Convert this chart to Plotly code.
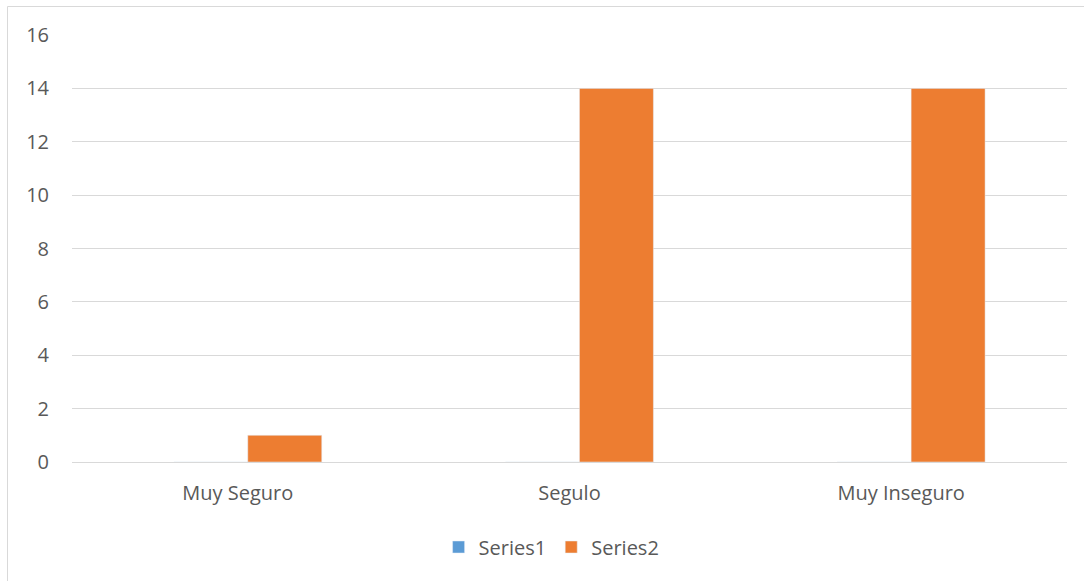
import plotly.graph_objects as go

categories = ["Muy Seguro", "Segulo", "Muy Inseguro"]
series1 = [0, 0, 0]
series2 = [1, 14, 14]
y_ticks = [0, 2, 4, 6, 8, 10, 12, 14, 16]

W, H = 1084, 581
L, R, T, B = 72, 17, 35, 119
pw, ph = W - L - R, H - T - B

BW = 0.223   # bar width, in category units
SHIFT = 0.03 # group offset seen in the reference

fig = go.Figure()
fig.add_trace(go.Bar(name="Series1", x=categories, y=series1, marker_color="#5b9bd5",
                     width=BW, offset=-BW + SHIFT))
fig.add_trace(go.Bar(name="Series2", x=categories, y=series2, marker_color="#ed7d31",
                     width=BW, offset=SHIFT))

FS = 20
font = dict(family="Open Sans, Liberation Sans, sans-serif", size=FS, color="#595959")
fig.update_layout(
    width=W, height=H,
    margin=dict(l=L, r=R, t=T, b=B),
    paper_bgcolor="white", plot_bgcolor="white",
    barmode="group",
    font=font,
    showlegend=True,
    legend=dict(orientation="h", x=0.482, xanchor="center", y=(462 - 547) / ph, yanchor="middle",
                font=dict(size=FS, color="#595959"), itemwidth=30, traceorder="normal"),
    xaxis=dict(showgrid=False, showline=False, ticks="", ticklabelstandoff=17,
               tickfont=dict(size=FS, color="#595959")),
    yaxis=dict(range=[0, 16], tickvals=y_ticks, showgrid=True, gridcolor="#d9d9d9", gridwidth=1,
               zeroline=True, zerolinecolor="#d9d9d9", zerolinewidth=1, showline=False,
               ticks="", ticklabelstandoff=22, tickfont=dict(size=FS, color="#595959")),
)

fig.add_shape(type="rect", xref="paper", yref="paper",
              x0=(7.5 - L) / pw, x1=(1095 - L) / pw,
              y0=(462 - 600) / ph, y1=(462 - 6.5) / ph,
              line=dict(color="#d9d9d9", width=1), fillcolor="rgba(0,0,0,0)", layer="below")

fig.write_html("out.html", config={"displayModeBar": False},
               post_script="document.body.style.margin='0';document.body.style.overflow='hidden';")
